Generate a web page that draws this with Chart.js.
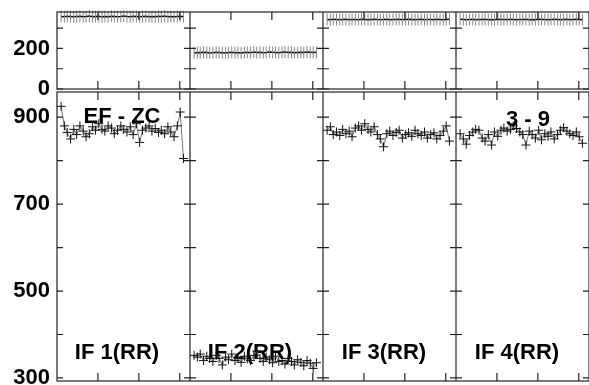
<!DOCTYPE html>
<html lang="en">
<head>
<meta charset="UTF-8">
<title>EF - ZC  3 - 9</title>
<script src="https://cdn.jsdelivr.net/npm/chart.js"></script>
<style>
    body { margin: 0; background: #fff; }
    #wrap { position: relative; width: 589px; height: 385px; overflow: hidden; }
    canvas { position: absolute; }
</style>
</head>
<body>
<div id="wrap">
    <canvas id="amp1" width="190" height="303" style="left:0;top:82px"></canvas>
    <canvas id="amp2" width="133" height="303" style="left:190px;top:82px"></canvas>
    <canvas id="amp3" width="133" height="303" style="left:323px;top:82px"></canvas>
    <canvas id="amp4" width="133" height="303" style="left:456px;top:82px"></canvas>
    <canvas id="phs1" width="190" height="100" style="left:0;top:0"></canvas>
    <canvas id="phs2" width="133" height="100" style="left:190px;top:0"></canvas>
    <canvas id="phs3" width="133" height="100" style="left:323px;top:0"></canvas>
    <canvas id="phs4" width="133" height="100" style="left:456px;top:0"></canvas>
</div>
<script>
// time axis (same sampling in every IF)
const times = [0.10, 0.18, 0.25, 0.33, 0.41, 0.48, 0.56, 0.64, 0.71, 0.79,
               0.87, 0.94, 1.02, 1.10, 1.17, 1.25, 1.33, 1.40, 1.48, 1.56,
               1.63, 1.71, 1.79, 1.86, 1.94, 2.02, 2.09, 2.17, 2.25, 2.32,
               2.40, 2.48, 2.55, 2.63, 2.71, 2.78, 2.86, 2.94, 3.01, 3.09];
const timeTicks = [1, 2, 3];

// amplitudes
const ampIF1 = [925, 880, 865, 850, 872, 860, 880, 868, 855, 862, 878, 870, 885, 872, 868, 880, 875, 862, 870, 880,
                872, 866, 878, 860, 885, 842, 870, 875, 880, 868, 874, 865, 870, 862, 878, 866, 855, 880, 912, 805];
const ampIF2 = [352, 348, 355, 340, 350, 345, 338, 352, 345, 330, 348, 342, 355, 340, 346, 336, 350, 344, 340, 352,
                362, 345, 338, 348, 342, 335, 350, 338, 340, 332, 345, 338, 330, 342, 336, 328, 340, 334, 322, 335];
const ampIF3 = [870, 878, 860, 866, 858, 872, 862, 868, 855, 875, 880, 870, 885, 872, 866, 878, 860, 850, 832, 862,
                868, 858, 865, 870, 852, 860, 864, 856, 870, 862, 858, 866, 852, 860, 864, 850, 858, 868, 880, 845];
const ampIF4 = [862, 850, 838, 858, 866, 872, 870, 852, 845, 860, 836, 866, 856, 870, 875, 868, 872, 880, 874, 866,
                860, 836, 868, 860, 852, 870, 848, 862, 856, 866, 850, 860, 870, 876, 868, 862, 858, 866, 855, 840];

// phases
const phsIF1 = [358, 357, 359, 358, 356, 358, 359, 357, 358, 360, 357, 358, 359, 356, 358, 357, 359, 358, 357, 358,
                360, 358, 357, 359, 358, 356, 358, 359, 357, 358, 357, 359, 358, 360, 357, 358, 356, 358, 359, 357];
const phsIF2 = [178, 180, 179, 181, 180, 178, 179, 181, 180, 179, 178, 180, 181, 179, 180, 178, 180, 181, 179, 182,
                180, 181, 179, 180, 182, 181, 180, 179, 181, 182, 180, 181, 179, 180, 181, 180, 182, 181, 180, 181];
const phsIF3 = [343, 342, 344, 343, 342, 343, 344, 342, 343, 343, 342, 344, 343, 342, 343, 344, 343, 342, 343, 344,
                342, 343, 343, 344, 342, 343, 344, 343, 342, 343, 344, 342, 343, 343, 342, 344, 343, 342, 343, 344];
const phsIF4 = [344, 343, 342, 343, 344, 342, 343, 343, 344, 342, 343, 342, 344, 343, 343, 342, 344, 343, 342, 343,
                343, 344, 342, 343, 342, 344, 343, 343, 342, 343, 344, 343, 342, 343, 344, 342, 343, 344, 343, 342];

const ampTicks = [300, 400, 500, 600, 700, 800, 900];
const ampLabels = [300, 500, 700, 900];
const phsTicks = [0, 100, 200, 300];
const phsLabels = [0, 200];

const FONT = '"Liberation Sans", Arial, sans-serif';

// frame + inward tick marks + panel captions
const panelFrame = {
    id: 'panelFrame',
    beforeDatasetsDraw(chart, args, opts) {
        const {ctx, chartArea: a} = chart;
        ctx.save();
        ctx.font = 'bold 22px ' + FONT;
        ctx.fillStyle = '#000';
        ctx.textAlign = 'center';
        ctx.textBaseline = 'middle';
        (opts.texts || []).forEach(t => ctx.fillText(t.text, a.left + t.dx, t.top ? a.top + t.dy : a.bottom - t.dy));
        ctx.restore();
    },
    afterDraw(chart, args, opts) {
        const {ctx, chartArea: a, scales} = chart;
        ctx.save();
        ctx.strokeStyle = '#222';
        ctx.lineWidth = 1.2;
        ctx.beginPath();
        opts.yTicks.forEach(v => {
            const y = scales.y.getPixelForValue(v);
            ctx.moveTo(a.left, y); ctx.lineTo(a.left + 6, y);
            ctx.moveTo(a.right, y); ctx.lineTo(a.right - 6, y);
        });
        timeTicks.forEach(v => {
            const x = scales.x.getPixelForValue(v);
            ctx.moveTo(x, a.top); ctx.lineTo(x, a.top + 8);
            ctx.moveTo(x, a.bottom); ctx.lineTo(x, a.bottom - 8);
        });
        ctx.stroke();
        ctx.strokeRect(a.left, a.top, a.right - a.left, a.bottom - a.top);
        ctx.restore();
    }
};

function pts(vals) {
    return times.map((t, i) => ({x: t, y: vals[i]}));
}

function makePanel(id, vals, kind, withAxis, texts) {
    const isAmp = kind === 'amp';
    const ds = isAmp ? {
        data: pts(vals),
        borderColor: '#777',
        borderWidth: 1,
        pointStyle: 'cross',
        pointRadius: 4.5,
        pointBorderColor: '#111',
        pointBorderWidth: 1
    } : {
        data: pts(vals),
        borderColor: '#000',
        borderWidth: 1.5,
        pointStyle: 'line',
        rotation: 90,
        pointRadius: 6,
        pointBorderColor: '#888',
        pointBorderWidth: 1
    };
    new Chart(document.getElementById(id), {
        type: 'scatter',
        data: { datasets: [Object.assign({showLine: true, clip: false}, ds)] },
        options: {
            responsive: false,
            animation: false,
            events: [],
            layout: {
                autoPadding: false,
                padding: isAmp ? {top: 10, bottom: 4, left: 0, right: 0} : {top: 12, bottom: 11, left: 0, right: 0}
            },
            plugins: {
                legend: { display: false },
                tooltip: { enabled: false },
                panelFrame: { yTicks: isAmp ? ampTicks : phsTicks, texts: texts }
            },
            scales: {
                x: { type: 'linear', min: 0, max: 3.25, display: false },
                y: {
                    min: isAmp ? 293 : 0,
                    max: isAmp ? 958 : 380,
                    display: withAxis,
                    grid: { display: false, drawTicks: false },
                    border: { display: false },
                    afterBuildTicks: s => { s.ticks = (isAmp ? ampLabels : phsLabels).map(v => ({value: v})); },
                    afterFit: s => {
                        s.width = withAxis ? 57 : 0;
                        s.paddingTop = 0;
                        s.paddingBottom = 0;
                    },
                    ticks: {
                        padding: 7,
                        color: '#000',
                        font: { family: FONT, size: 22, weight: 'bold' }
                    }
                }
            }
        },
        plugins: [panelFrame]
    });
}

makePanel('amp1', ampIF1, 'amp', true, [
    {text: 'EF - ZC', dx: 65, dy: 25, top: true},
    {text: 'IF 1(RR)', dx: 60, dy: 28}
]);
makePanel('amp2', ampIF2, 'amp', false, [{text: 'IF 2(RR)', dx: 60, dy: 28}]);
makePanel('amp3', ampIF3, 'amp', false, [{text: 'IF 3(RR)', dx: 61, dy: 28}]);
makePanel('amp4', ampIF4, 'amp', false, [
    {text: '3 - 9', dx: 72, dy: 28, top: true},
    {text: 'IF 4(RR)', dx: 61, dy: 28}
]);
makePanel('phs1', phsIF1, 'phs', true, []);
makePanel('phs2', phsIF2, 'phs', false, []);
makePanel('phs3', phsIF3, 'phs', false, []);
makePanel('phs4', phsIF4, 'phs', false, []);
</script>
</body>
</html>
